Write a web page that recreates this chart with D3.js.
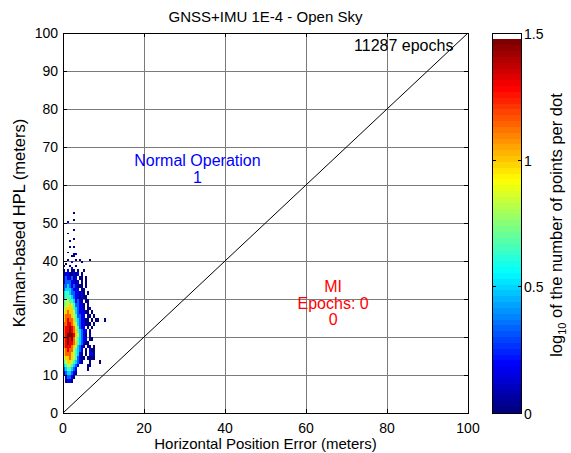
<!DOCTYPE html>
<html>
<head>
<meta charset="utf-8">
<script src="https://cdn.jsdelivr.net/npm/d3@7"></script>
<style>
	body { margin: 0; background: #fff; }
	svg { display: block; font-family: 'Liberation Sans', Arial, Helvetica, sans-serif; }
	.tick-label { font-size: 14px; fill: #000; }
	.axis-label { font-size: 15px; fill: #000; }
	.side-label { font-size: 16.5px; fill: #000; }
	.note { font-size: 16px; }
	.grid line { stroke: #7a7a7a; stroke-width: 1; }
	.cell { shape-rendering: crispEdges; }
</style>
</head>
<body>
<svg id="chart"></svg>
<script>
// ---- data ----
const titleText = 'GNSS+IMU 1E-4 - Open Sky';
const xLabelText = 'Horizontal Position Error (meters)';
const yLabelText = 'Kalman-based HPL (meters)';
const xTicks = [0, 20, 40, 60, 80, 100];
const yTicks = [0, 10, 20, 30, 40, 50, 60, 70, 80, 90, 100];
const cbTicks = [0, 0.5, 1, 1.5];
const cbTickLabels = ['0', '0.5', '1', '1.5'];
const epochsText = '11287 epochs';
const normalOpLines = ['Normal Operation', '1'];
const miLines = ['MI', 'Epochs: 0', '0'];

// dense cloud: one string per 1 m row of HPL (top row = 37..38 m),
// one char per 0.5 m of position error, '.' = empty, digit d = log10(count) of d/6
const coreTopY = 37;
const coreRows = [
	'0.1.00.0..0',
	'01100101.0',
	'1211201.00.0',
	'12221101.0.0',
	'2232121000.0',
	'23332111.00',
	'34432211010.0',
	'344432110100',
	'4554431210.00',
	'45565422110.0',
	'56666432110.00',
	'5676653211100.0',
	'67776542211.00.0',
	'6787764321100.0.00..0',
	'77887653211000.0',
	'78898754211.0.0',
	'788987643211.0',
	'789998653210.0',
	'789897543211.00',
	'7898876432100',
	'78887653210.00.0',
	'6787754321.0.100',
	'6777654310.0.110',
	'56676542100.0000',
	'4566543210...0....0',
	'34554321....00',
	'2344321.....0',
	'1233210',
	'.12210',
	'.0110'
];

// isolated dots above the cloud (error m, HPL m, level)
const sparseErr = [2.8, 2.7, 1.2, 2.9, 1.4, 2.5, 1.5, 1.8, 2.8, 1.4, 2.8, 3.1, 2.0, 2.5, 6.5, 1.3, 2.0, 3.0, 4.0, 4.6, 0.6, 1.6, 3.4, 2.4, 0.3];
const sparseHpl = [52.9, 50.7, 50.0, 48.2, 47.2, 45.6, 45.0, 43.8, 43.8, 42.2, 41.5, 41.5, 41.3, 41.0, 40.0, 40.2, 39.8, 40.0, 40.1, 39.5, 39.2, 38.6, 38.8, 38.3, 38.5];
const sparseLevel = [0, 0, 1, 0, 0, 0, 0, 0, 0, 0, 0, 1, 0, 0, 0, 0, 1, 0, 0, 0, 0, 0, 0, 1, 0];

// MATLAB jet
function jet(t) {
	const c = v => Math.max(0, Math.min(1, v));
	const r = c(1.5 - Math.abs(4 * t - 3));
	const g = c(1.5 - Math.abs(4 * t - 2));
	const b = c(1.5 - Math.abs(4 * t - 1));
	return d3.rgb(r * 255, g * 255, b * 255).toString();
}

class StanfordPlot {

	constructor(_config) {
		this.config = {
			parentElement: _config.parentElement,
			containerWidth: _config.containerWidth || 571,
			containerHeight: _config.containerHeight || 453,
			plot: { left: 63, right: 468, top: 33, bottom: 413 },
			colorbar: { left: 492, right: 521 },
			cMax: 1.5,
			nColors: 64
		};
		this.initVis();
	}

	initVis() {
		let vis = this;
		const p = vis.config.plot;

		vis.svg = d3.select(vis.config.parentElement)
			.attr('width', vis.config.containerWidth)
			.attr('height', vis.config.containerHeight);

		vis.xScale = d3.scaleLinear().domain([0, 100]).range([p.left, p.right]);
		vis.yScale = d3.scaleLinear().domain([0, 100]).range([p.bottom, p.top]);
		vis.cScale = d3.scaleLinear().domain([0, vis.config.cMax]).range([p.bottom, p.top]);

		// colour of a log10 value, banded like a 64 colour map
		vis.colorOf = v => {
			const n = vis.config.nColors;
			const idx = Math.min(n - 1, Math.floor(v / vis.config.cMax * n));
			return jet(idx / (n - 1));
		};

		vis.renderVis();
	}

	renderVis() {
		let vis = this;
		const p = vis.config.plot;
		const x = vis.xScale, y = vis.yScale;

		// grid
		const grid = vis.svg.append('g').attr('class', 'grid');
		grid.selectAll('.vgrid')
			.data(xTicks.slice(1, -1))
			.join('line')
			.attr('x1', d => Math.round(x(d)) + 0.5).attr('x2', d => Math.round(x(d)) + 0.5)
			.attr('y1', p.top).attr('y2', p.bottom);
		grid.selectAll('.hgrid')
			.data(yTicks.slice(1, -1))
			.join('line')
			.attr('y1', d => Math.round(y(d)) + 0.5).attr('y2', d => Math.round(y(d)) + 0.5)
			.attr('x1', p.left).attr('x2', p.right);

		// HPL = error line
		vis.svg.append('line')
			.attr('x1', x(0)).attr('y1', y(0))
			.attr('x2', x(100)).attr('y2', y(100))
			.attr('stroke', '#000')
			.attr('stroke-width', 1);

		// dense cloud
		let cells = [];
		coreRows.forEach((row, k) => {
			const hpl = coreTopY - k;
			row.split('').forEach((ch, i) => {
				if (ch !== '.') cells.push({ err: i * 0.5, hpl: hpl, w: 0.5, h: 1, v: +ch / 6 });
			});
		});
		sparseErr.forEach((e, i) => {
			cells.push({
				err: Math.floor(e / 0.5) * 0.5,
				hpl: Math.floor(sparseHpl[i] / 0.5) * 0.5,
				w: 0.5, h: 0.5,
				v: sparseLevel[i] / 6
			});
		});

		vis.svg.append('g').selectAll('.cell')
			.data(cells)
			.join('rect')
			.attr('class', 'cell')
			.attr('x', d => x(d.err))
			.attr('y', d => y(d.hpl + d.h))
			.attr('width', d => x(d.err + d.w) - x(d.err))
			.attr('height', d => y(d.hpl) - y(d.hpl + d.h))
			.attr('fill', d => vis.colorOf(d.v));

		// frame + inward ticks
		const frame = vis.svg.append('g');
		frame.append('rect')
			.attr('x', p.left + 0.5).attr('y', p.top + 0.5)
			.attr('width', p.right - p.left).attr('height', p.bottom - p.top)
			.attr('fill', 'none').attr('stroke', '#000').attr('stroke-width', 1);
		const tl = 4;
		xTicks.forEach(t => {
			const px = Math.round(x(t)) + 0.5;
			frame.append('line').attr('x1', px).attr('x2', px).attr('y1', p.bottom).attr('y2', p.bottom - tl).attr('stroke', '#000');
			frame.append('line').attr('x1', px).attr('x2', px).attr('y1', p.top).attr('y2', p.top + tl).attr('stroke', '#000');
		});
		yTicks.forEach(t => {
			const py = Math.round(y(t)) + 0.5;
			frame.append('line').attr('y1', py).attr('y2', py).attr('x1', p.left).attr('x2', p.left + tl).attr('stroke', '#000');
			frame.append('line').attr('y1', py).attr('y2', py).attr('x1', p.right).attr('x2', p.right - tl).attr('stroke', '#000');
		});

		// tick labels
		vis.svg.append('g').selectAll('text')
			.data(xTicks)
			.join('text')
			.attr('class', 'tick-label')
			.attr('text-anchor', 'middle')
			.attr('x', d => x(d))
			.attr('y', p.bottom + 20)
			.text(d => d);
		vis.svg.append('g').selectAll('text')
			.data(yTicks)
			.join('text')
			.attr('class', 'tick-label')
			.attr('text-anchor', 'end')
			.attr('x', p.left - 5)
			.attr('y', d => y(d) + 5)
			.text(d => d);

		// title and axis labels
		const cx = (p.left + p.right) / 2;
		vis.svg.append('text')
			.attr('class', 'axis-label')
			.attr('text-anchor', 'middle')
			.attr('x', cx).attr('y', 22)
			.text(titleText);
		vis.svg.append('text')
			.attr('class', 'axis-label')
			.attr('text-anchor', 'middle')
			.attr('x', cx).attr('y', 449)
			.text(xLabelText);
		vis.svg.append('text')
			.attr('class', 'side-label')
			.attr('text-anchor', 'middle')
			.attr('transform', `translate(25, ${(p.top + p.bottom) / 2}) rotate(-90)`)
			.text(yLabelText);

		// annotations
		vis.svg.append('text')
			.attr('class', 'axis-label note')
			.attr('text-anchor', 'end')
			.attr('x', x(96.4)).attr('y', y(95.3))
			.text(epochsText);

		const block = (lines, ex, hy, color) => {
			const t = vis.svg.append('text')
				.attr('class', 'axis-label note')
				.attr('text-anchor', 'middle')
				.style('fill', color);
			lines.forEach((s, i) => {
				t.append('tspan').attr('x', x(ex)).attr('y', y(hy) + i * 16.5).text(s);
			});
		};
		block(normalOpLines, 33.2, 65, '#0000ff');
		block(miLines, 66.7, 31.8, '#ff0000');

		vis.renderColorbar();
	}

	renderColorbar() {
		let vis = this;
		const cb = vis.config.colorbar;
		const p = vis.config.plot;
		const n = vis.config.nColors;
		const top = 1.475; // the colour image stops a little short of the top limit

		const bands = d3.range(n);
		vis.svg.append('g').selectAll('rect')
			.data(bands)
			.join('rect')
			.attr('class', 'cell')
			.attr('x', cb.left)
			.attr('width', cb.right - cb.left)
			.attr('y', k => vis.cScale((k + 1) / n * top))
			.attr('height', k => vis.cScale(k / n * top) - vis.cScale((k + 1) / n * top))
			.attr('fill', k => jet(k / (n - 1)));

		vis.svg.append('rect')
			.attr('x', cb.left + 0.5).attr('y', p.top + 0.5)
			.attr('width', cb.right - cb.left).attr('height', p.bottom - p.top)
			.attr('fill', 'none').attr('stroke', '#000');

		cbTicks.forEach((t, i) => {
			const py = Math.round(vis.cScale(t)) + 0.5;
			vis.svg.append('line').attr('x1', cb.left).attr('x2', cb.left + 4).attr('y1', py).attr('y2', py).attr('stroke', '#000');
			vis.svg.append('line').attr('x1', cb.right + 1).attr('x2', cb.right - 3).attr('y1', py).attr('y2', py).attr('stroke', '#000');
			vis.svg.append('text')
				.attr('class', 'tick-label')
				.attr('x', cb.right + 3)
				.attr('y', py + 5)
				.text(cbTickLabels[i]);
		});

		const lab = vis.svg.append('text')
			.attr('class', 'side-label')
			.attr('text-anchor', 'middle')
			.attr('transform', `translate(562, ${(p.top + p.bottom) / 2 + 2}) rotate(-90)`);
		lab.append('tspan').text('log');
		lab.append('tspan').attr('dy', 4).style('font-size', '11px').text('10');
		lab.append('tspan').attr('dy', -4).text(' of the number of points per dot');
	}
}

new StanfordPlot({ parentElement: '#chart' });
</script>
</body>
</html>
